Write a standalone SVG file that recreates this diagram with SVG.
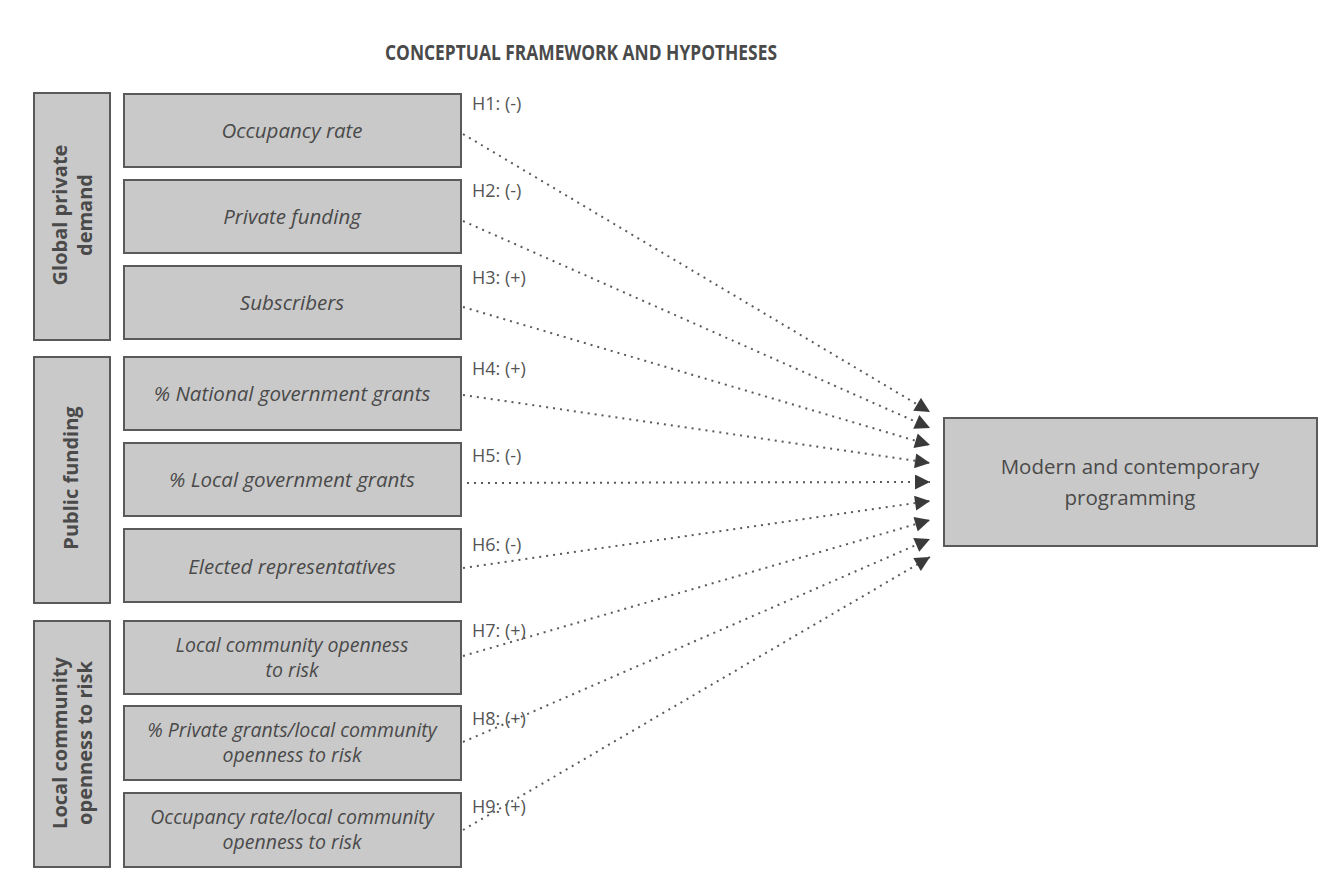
<svg xmlns="http://www.w3.org/2000/svg" width="1318" height="882" viewBox="0 0 1318 882">
<defs>
<style>
.box{fill:#c9c9c9;stroke:#5a5a5a;stroke-width:2}
.it{font-family:"Open Sans","Liberation Sans",sans-serif;font-style:italic;font-size:20.5px;fill:#4a4a4a;text-anchor:middle}
.it2{font-family:"Open Sans","Liberation Sans",sans-serif;font-style:italic;font-size:19.5px;fill:#4a4a4a;text-anchor:middle}
.grp{font-family:"Open Sans","Liberation Sans",sans-serif;font-weight:bold;font-size:20px;fill:#4a4a4a;text-anchor:middle}
.hl{font-family:"Open Sans","Liberation Sans",sans-serif;font-size:18px;fill:#555}
.title{font-family:"Open Sans","Liberation Sans",sans-serif;font-weight:bold;font-size:20.5px;fill:#4a4a4a;text-anchor:middle}
.tgt{font-family:"Open Sans","Liberation Sans",sans-serif;font-size:20.5px;fill:#4a4a4a;text-anchor:middle}
.conn{fill:none;stroke:#5a5a5a;stroke-width:2;stroke-dasharray:2 5;marker-end:url(#ah)}
</style>
<marker id="ah" viewBox="0 0 10 10" refX="10" refY="5" markerWidth="8.5" markerHeight="7.5" markerUnits="strokeWidth" orient="auto">
<path d="M0,0 L10,5 L0,10 z" fill="#3a3a3a"/>
</marker>
</defs>
<rect width="1318" height="882" fill="#ffffff"/>
<text class="title" x="581" y="60" textLength="392" lengthAdjust="spacingAndGlyphs">CONCEPTUAL FRAMEWORK AND HYPOTHESES</text>

<g id="group-global">
<rect class="box" x="34" y="93" width="76" height="247"/>
<text class="grp" transform="translate(71.5,215) rotate(-90)"><tspan x="0" y="-4.5">Global private</tspan><tspan x="0" y="20.5">demand</tspan></text>
</g>
<g id="group-public">
<rect class="box" x="34" y="357" width="76" height="246"/>
<text class="grp" transform="translate(71.5,478) rotate(-90)" x="0" y="6.5">Public funding</text>
</g>
<g id="group-local">
<rect class="box" x="34" y="621" width="76" height="246"/>
<text class="grp" transform="translate(71.5,743) rotate(-90)"><tspan x="0" y="-4.5">Local community</tspan><tspan x="0" y="20.5">openness to risk</tspan></text>
</g>

<g id="n1"><rect class="box" x="124" y="94" width="337" height="73"/><text class="it" x="292" y="138">Occupancy rate</text><text class="hl" x="472" y="110">H1: (-)</text></g>
<g id="n2"><rect class="box" x="124" y="180" width="337" height="73"/><text class="it" x="292" y="224">Private funding</text><text class="hl" x="472" y="197">H2: (-)</text></g>
<g id="n3"><rect class="box" x="124" y="266" width="337" height="73"/><text class="it" x="292" y="310">Subscribers</text><text class="hl" x="472" y="284">H3: (+)</text></g>
<g id="n4"><rect class="box" x="124" y="357" width="337" height="73"/><text class="it" x="292" y="401">% National government grants</text><text class="hl" x="472" y="375">H4: (+)</text></g>
<g id="n5"><rect class="box" x="124" y="443" width="337" height="73"/><text class="it" x="292" y="487">% Local government grants</text><text class="hl" x="472" y="462">H5: (-)</text></g>
<g id="n6"><rect class="box" x="124" y="529" width="337" height="73"/><text class="it" x="292" y="574">Elected representatives</text><text class="hl" x="472" y="551">H6: (-)</text></g>
<g id="n7"><rect class="box" x="124" y="621" width="337" height="73"/><text class="it2" x="292" y="652">Local community openness</text><text class="it2" x="292" y="677">to risk</text><text class="hl" x="472" y="637">H7: (+)</text></g>
<g id="n8"><rect class="box" x="124" y="706" width="337" height="74"/><text class="it2" x="292" y="737">% Private grants/local community</text><text class="it2" x="292" y="762">openness to risk</text><text class="hl" x="472" y="725">H8: (+)</text></g>
<g id="n9"><rect class="box" x="124" y="793" width="337" height="74"/><text class="it2" x="292" y="824">Occupancy rate/local community</text><text class="it2" x="292" y="849">openness to risk</text><text class="hl" x="472" y="813">H9: (+)</text></g>

<g id="target"><rect class="box" x="944" y="418" width="373" height="128"/><text class="tgt" x="1130" y="474">Modern and contemporary</text><text class="tgt" x="1130" y="505">programming</text></g>

<g id="connectors">
<path class="conn" d="M463,134 L930,412"/>
<path class="conn" d="M463,221 L930,428"/>
<path class="conn" d="M463,307 L930,445"/>
<path class="conn" d="M463,395 L930,463"/>
<path class="conn" d="M460,483 L930,482"/>
<path class="conn" d="M463,568 L930,501"/>
<path class="conn" d="M463,656 L930,520"/>
<path class="conn" d="M463,742 L930,539"/>
<path class="conn" d="M463,830 L930,557"/>
</g>
</svg>
